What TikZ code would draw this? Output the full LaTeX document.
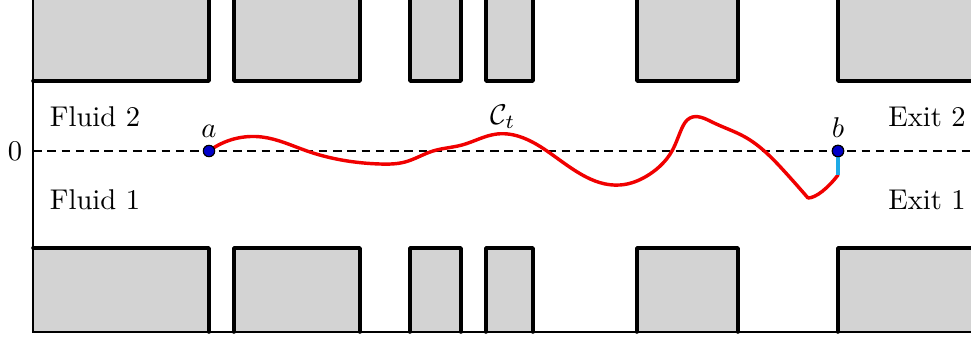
\documentclass[tikz,border=0pt]{standalone}
\usepackage{amsmath,amssymb}
\usepackage{tikz}
\usetikzlibrary{positioning,calc,hobby}

\definecolor{blockgray}{RGB}{211,211,211}
\definecolor{pathred}{RGB}{240,0,0}
\definecolor{dotblue}{RGB}{0,0,200}
\definecolor{segcyan}{RGB}{30,170,230}

\begin{document}
\begin{tikzpicture}[
  x=0.35pt, y=-0.35pt,
  blk/.style={fill=blockgray},
  wall/.style={line width=1.25pt, line join=round, line cap=round},
  axis/.style={line width=0.5pt},
  mid/.style={dashed, dash pattern=on 3pt off 2pt, line width=0.9pt},
  crv/.style={pathred, line width=1.2pt, line join=round, line cap=round},
  dot/.style={circle, draw=black, fill=dotblue, inner sep=0pt,
              minimum size=4pt, line width=0.4pt}
]
\useasboundingbox (0,0) rectangle (971,338);

% gray blocks, top and bottom
\fill[blk] (33,0) rectangle (209,81);
\fill[blk] (838,0) rectangle (971,81);
\fill[blk] (33,248) rectangle (209,332);
\fill[blk] (838,248) rectangle (971,332);
\draw[wall] (33,81) -- (209,81) -- (209,0);
\draw[wall] (971,81) -- (838,81) -- (838,0);
\draw[wall] (33,248) -- (209,248) -- (209,332);
\draw[wall] (971,248) -- (838,248) -- (838,332);
\foreach \xa/\xb in {234/360, 410/461, 486/533, 637/738} {
  \fill[blk] (\xa,0) rectangle (\xb,81);
  \fill[blk] (\xa,248) rectangle (\xb,332);
  \draw[wall] (\xa,0) -- (\xa,81) -- (\xb,81) -- (\xb,0);
  \draw[wall] (\xa,332) -- (\xa,248) -- (\xb,248) -- (\xb,332);
}

% border
\draw[axis] (33,0) -- (33,332) -- (971,332);

% points and dashed centre line
\coordinate (left) at (33,151);
\coordinate (right) at (971,151);
\coordinate (low) at (808,198);
\coordinate (end) at (838,175);
\node (zero) at (15,151) {$0$};
\draw[mid] (left) -- (right);

% red curve
\draw[crv, use Hobby shortcut] (209,151) .. (262,137) .. (307,151)
  .. (380,164) .. (405,162) .. (433,151) .. (462,145) .. (497,134)
  .. (547,151) .. (620,185) .. (650,174) .. (672,151) .. (682,128)
  .. (690,118) .. (712,122) .. (745,137) .. (785,172) .. (low);
\draw[crv] (low) .. controls (816,198) and (828,188) .. (end);

\node[dot] (a) at (209,151) {};
\node[dot] (b) at (838,151) {};
\draw[segcyan, line width=1.2pt] (end) -- (b);
\node[dot] at (b) {};
\node[above=-1pt of a] (la) {$a$};
\node[above=-1pt of b] (lb) {$b$};

% labels
\node (ct) at (503,117) {$\mathcal{C}_t$};
\node (f2) at (95,117) {Fluid 2};
\node (f1) at (95,200) {Fluid 1};
\node (e2) at (927,117) {Exit 2};
\node (e1) at (927,200) {Exit 1};
\end{tikzpicture}
\end{document}
